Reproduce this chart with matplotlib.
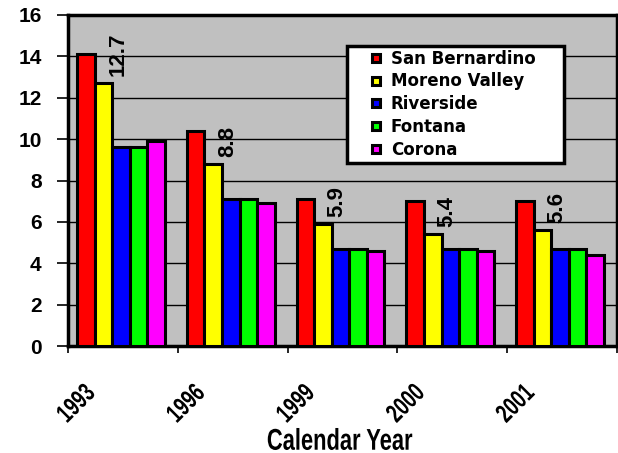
import numpy as np
import matplotlib
matplotlib.use("Agg")
import matplotlib.pyplot as plt
from matplotlib.patches import PathPatch, Rectangle
from matplotlib.textpath import TextPath
from matplotlib.font_manager import FontProperties
from matplotlib.transforms import Affine2D, IdentityTransform

# Chart data
years = ["1993", "1996", "1999", "2000", "2001"]
cities = ["San Bernardino", "Moreno Valley", "Riverside", "Fontana", "Corona"]
san_bernardino = [14.1, 10.4, 7.1, 7.0, 7.0]
moreno_valley = [12.7, 8.8, 5.9, 5.4, 5.6]
riverside = [9.6, 7.1, 4.7, 4.7, 4.7]
fontana = [9.6, 7.1, 4.7, 4.7, 4.7]
corona = [9.9, 6.9, 4.6, 4.6, 4.4]
yticks = [0, 2, 4, 6, 8, 10, 12, 14, 16]

series = [san_bernardino, moreno_valley, riverside, fontana, corona]
colors = ["#FF0000", "#FFFF00", "#0000FF", "#00FF00", "#FF00FF"]

plt.rcParams["font.family"] = ["Liberation Sans", "DejaVu Sans"]

W, H = 618, 453
fig = plt.figure(figsize=(W / 100, H / 100), dpi=100)
ax = fig.add_axes([68 / W, 1 - 346 / H, 549 / W, 331 / H])
ax.set_facecolor("#C0C0C0")


def squeezed_text(text, cx, cy, size, sx, angle=0):
    # bold text squeezed horizontally, centred on pixel (cx, cy) from top-left
    fp = FontProperties(family="Liberation Sans", weight="bold")
    tp = TextPath((0, 0), text, size=size, prop=fp)
    bb = tp.get_extents()
    tr = (Affine2D().translate(-(bb.x0 + bb.x1) / 2, -(bb.y0 + bb.y1) / 2)
          .scale(sx, 1).rotate_deg(angle).translate(cx, H - cy))
    fig.add_artist(PathPatch(tr.transform_path(tp), facecolor="black",
                             edgecolor="none", transform=IdentityTransform()))


x = np.arange(len(years))
bar_w = 0.16
shift = -0.018
for i, (vals, col) in enumerate(zip(series, colors)):
    ax.bar(x + (i - 2) * bar_w + shift, vals, width=bar_w, color=col,
           edgecolor="black", linewidth=2.2, zorder=3)

# value labels on Moreno Valley bars
for xi, v in zip(x, moreno_valley):
    ax.annotate(f"{v}", xy=(xi + shift - bar_w / 2, v), xytext=(4, 5),
                textcoords="offset points", rotation=90, ha="center",
                va="bottom", fontsize=16, fontweight="bold", zorder=4)

ax.set_xlim(-0.5, len(years) - 0.5)
ax.set_ylim(0, 16)
ax.set_yticks(yticks)
ax.set_xticks(np.arange(len(years) + 1) - 0.5)
ax.set_xticklabels([])
ax.grid(axis="y", color="black", linewidth=1, zorder=1)
ax.set_axisbelow(True)
ax.tick_params(axis="y", direction="out", length=8, width=1.2, pad=11,
               labelsize=15)
ax.tick_params(axis="x", direction="out", length=5, width=1.2)
for lab in ax.get_yticklabels():
    lab.set_fontweight("bold")
for s in ax.spines.values():
    s.set_linewidth(2.5)
    s.set_color("black")

# rotated year labels under the axis
for xi, yr in zip(x, years):
    px = ax.transData.transform((xi, 0))[0]
    squeezed_text(yr, px - 47.5, 402.5, 26, 0.72, angle=45)

squeezed_text("Calendar Year", 340, 439, 30, 0.73)

# legend box
fig.add_artist(Rectangle((347, H - 163), 217, 117, facecolor="white",
                         edgecolor="black", linewidth=2.5,
                         transform=IdentityTransform(), zorder=5))
for i, (name, col) in enumerate(zip(cities, colors)):
    ry = 57.8 + 22.7 * i
    fig.add_artist(Rectangle((372, H - ry - 4), 8, 8, facecolor=col,
                             edgecolor="black", linewidth=2.2,
                             transform=IdentityTransform(), zorder=6))
    fig.text(391 / W, 1 - (ry + 6) / H, name, va="baseline", ha="left",
             fontsize=12, fontweight="bold", family="DejaVu Sans", zorder=6)

fig.savefig("out.png", dpi=100)
